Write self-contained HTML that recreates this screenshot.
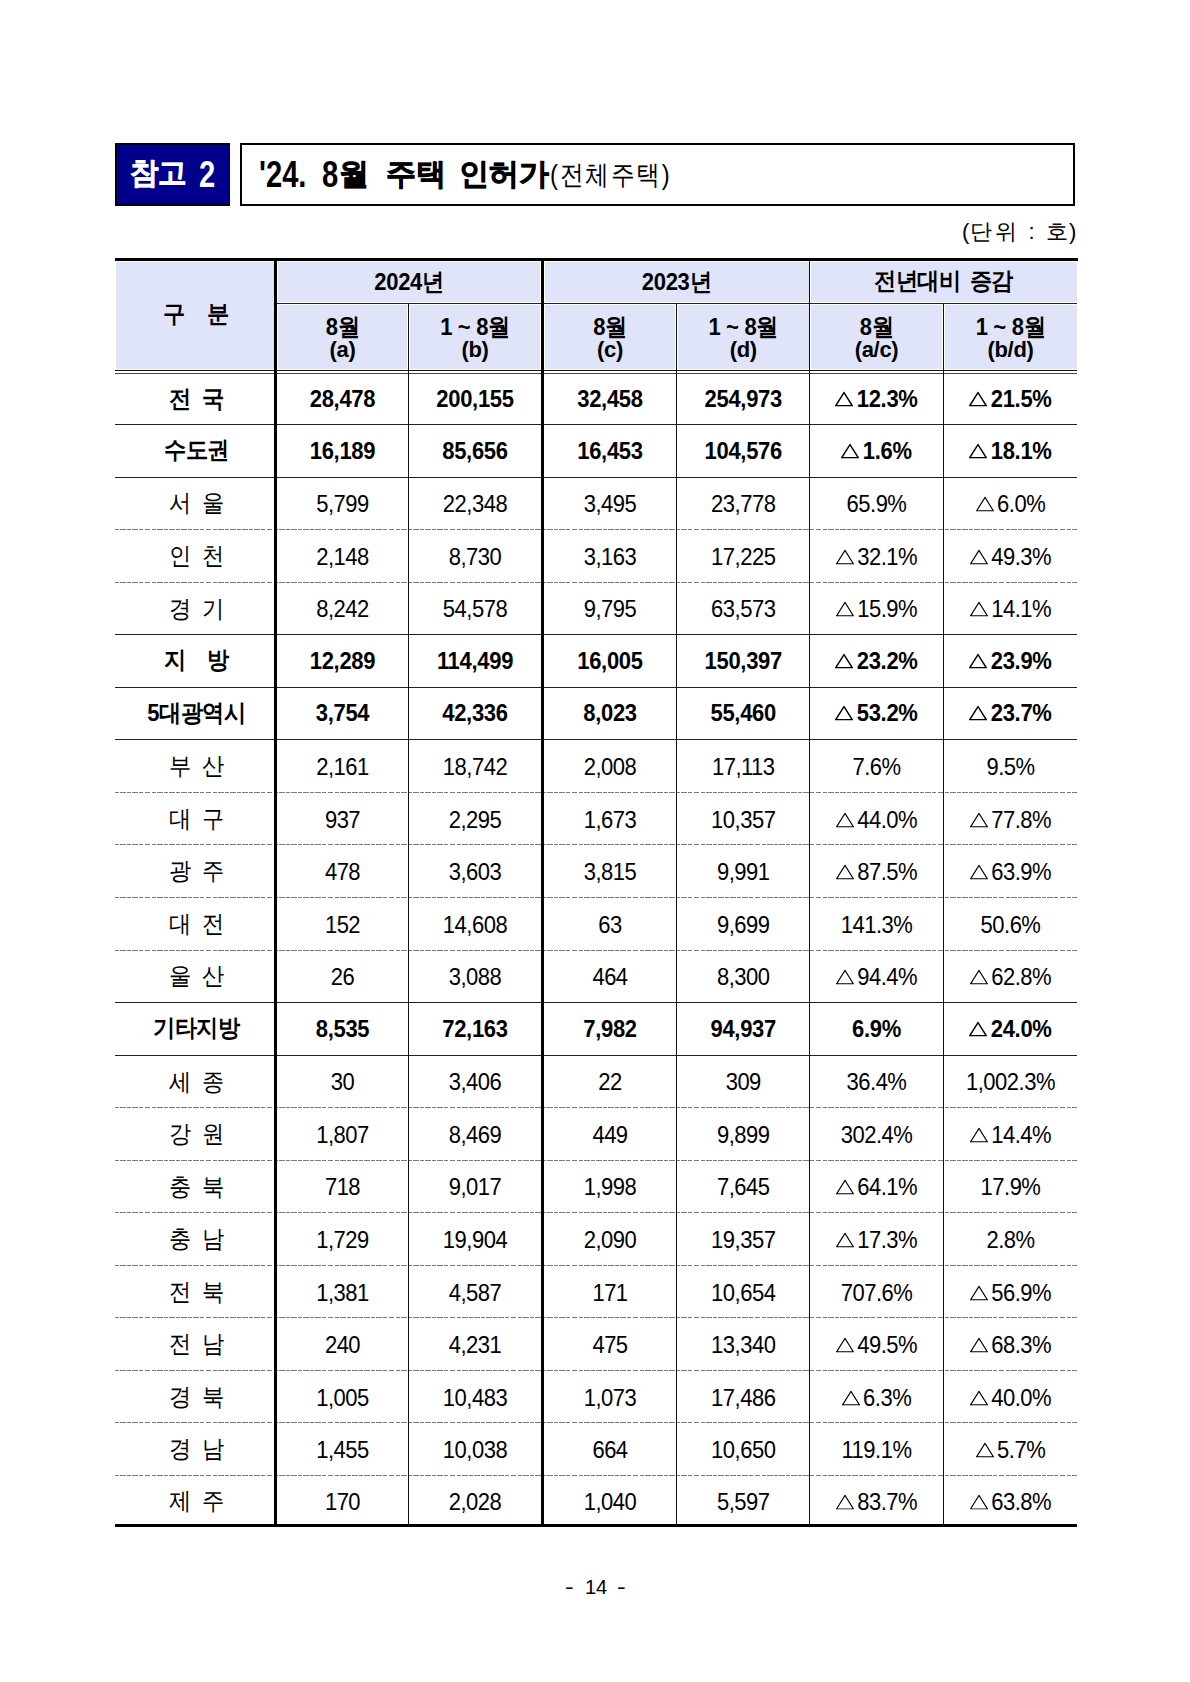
<!DOCTYPE html>
<html lang="ko"><head><meta charset="utf-8"><style>
*{margin:0;padding:0;box-sizing:border-box}
html,body{width:1190px;height:1682px;background:#fff;overflow:hidden}
body{position:relative;font-family:"Liberation Sans",sans-serif;color:#000}
.a{position:absolute}
.c{position:absolute;display:flex;align-items:center;justify-content:center;white-space:pre;font-size:22px;line-height:1;letter-spacing:-0.3px;transform:scaleY(1.08)}
.b{font-weight:bold}
.tri{display:inline-block;vertical-align:baseline;margin-right:3.4px;margin-left:0}
.t{position:absolute;white-space:pre;line-height:1;transform-origin:0 0}
.h{background:#222}
.d{height:1px;background:repeating-linear-gradient(to right,#7a7a7a 0 4px,transparent 4px 5.2px,#7a7a7a 5.2px 11px,transparent 11px 12.2px)}
.k{background:#000}
</style></head><body>

<div class="a" style="left:115px;top:143px;width:115px;height:62.5px;background:#00008a;border:2px solid #000;border-right-width:1px"></div>
<div class="a t" style="left:130px;top:158px;font-size:30px;transform:scaleX(0.95);color:#fff;font-weight:bold;letter-spacing:-1px;-webkit-text-stroke:0.6px #fff">참고</div>
<div class="a t" style="left:199px;top:157px;font-size:36px;transform:scaleX(0.81);color:#fff;font-weight:bold">2</div>
<div class="a" style="left:240px;top:143px;width:835px;height:62.5px;border:2.4px solid #000"></div>
<div class="a t" style="left:259px;top:157px;font-size:36px;transform:scaleX(0.81);font-weight:bold">'24.</div>
<div class="a t" style="left:322px;top:157px;font-size:36px;transform:scaleX(0.81);font-weight:bold">8</div>
<div class="a t" style="left:339px;top:159px;font-size:30px;transform:scaleX(1);font-weight:bold;-webkit-text-stroke:0.7px #000">월</div>
<div class="a t" style="left:386px;top:159px;font-size:30px;transform:scaleX(1);font-weight:bold;-webkit-text-stroke:0.7px #000">주택</div>
<div class="a t" style="left:459px;top:159px;font-size:30px;transform:scaleX(1);font-weight:bold;-webkit-text-stroke:0.7px #000">인허가</div>
<div class="a t" style="left:550px;top:161.5px;font-size:27px;transform:scaleX(0.88);letter-spacing:2px">(전체주택)</div>
<div class="a" style="left:962px;top:219px;font-size:22px;line-height:26px;white-space:pre">(</div>
<div class="a" style="left:970px;top:219px;font-size:22px;line-height:26px;white-space:pre;letter-spacing:2.5px">단위</div>
<div class="a" style="left:1028.5px;top:219px;font-size:22px;line-height:26px;white-space:pre">:</div>
<div class="a" style="left:1046px;top:219px;font-size:22px;line-height:26px;white-space:pre;letter-spacing:1px">호)</div>
<div class="a" style="left:116px;top:261.5px;width:157.5px;height:107.5px;background:#e0e4f8"></div>
<div class="a" style="left:278px;top:261.5px;width:262px;height:40.5px;background:#e0e4f8"></div>
<div class="a" style="left:545px;top:261.5px;width:263.5px;height:40.5px;background:#e0e4f8"></div>
<div class="a" style="left:811px;top:261.5px;width:266px;height:40.5px;background:#e0e4f8"></div>
<div class="a" style="left:278px;top:305px;width:129px;height:64px;background:#e0e4f8"></div>
<div class="a" style="left:410px;top:305px;width:130px;height:64px;background:#e0e4f8"></div>
<div class="a" style="left:545px;top:305px;width:130px;height:64px;background:#e0e4f8"></div>
<div class="a" style="left:678px;top:305px;width:130.5px;height:64px;background:#e0e4f8"></div>
<div class="a" style="left:811px;top:305px;width:131px;height:64px;background:#e0e4f8"></div>
<div class="a" style="left:945px;top:305px;width:132px;height:64px;background:#e0e4f8"></div>
<div class="c b" style="left:116.5px;top:259px;width:159px;height:109px;word-spacing:17px">구 분</div>
<div class="c b" style="left:277px;top:261px;width:264px;height:42px">2024년</div>
<div class="c b" style="left:544px;top:261px;width:265px;height:42px">2023년</div>
<div class="c b" style="left:810px;top:260px;width:267px;height:42px;word-spacing:3px">전년대비 증감</div>
<div class="c b" style="left:277px;top:304px;width:131px;height:46px">8월</div>
<div class="c b" style="left:277px;top:326.5px;width:131px;height:46px;transform:none">(a)</div>
<div class="c b" style="left:409px;top:304px;width:132px;height:46px">1 ~ 8월</div>
<div class="c b" style="left:409px;top:326.5px;width:132px;height:46px;transform:none">(b)</div>
<div class="c b" style="left:544px;top:304px;width:132px;height:46px">8월</div>
<div class="c b" style="left:544px;top:326.5px;width:132px;height:46px;transform:none">(c)</div>
<div class="c b" style="left:677px;top:304px;width:132.5px;height:46px">1 ~ 8월</div>
<div class="c b" style="left:677px;top:326.5px;width:132.5px;height:46px;transform:none">(d)</div>
<div class="c b" style="left:810px;top:304px;width:133px;height:46px">8월</div>
<div class="c b" style="left:810px;top:326.5px;width:133px;height:46px;transform:none">(a/c)</div>
<div class="c b" style="left:944px;top:304px;width:133px;height:46px">1 ~ 8월</div>
<div class="c b" style="left:944px;top:326.5px;width:133px;height:46px;transform:none">(b/d)</div>
<div class="c b" style="left:117px;top:373.5px;width:159px;height:50.4px;word-spacing:5.5px;">전 국</div>
<div class="c b" style="left:277px;top:374.3px;width:131px;height:50.4px;">28,478</div>
<div class="c b" style="left:409px;top:374.3px;width:132px;height:50.4px;">200,155</div>
<div class="c b" style="left:544px;top:374.3px;width:132px;height:50.4px;">32,458</div>
<div class="c b" style="left:677px;top:374.3px;width:132.5px;height:50.4px;">254,973</div>
<div class="c b" style="left:810px;top:374.3px;width:133px;height:50.4px;"><svg class="tri" width="18" height="14" viewBox="0 0 18 14"><path d="M0.70 13.30L9 1.12L17.30 13.30Z" fill="none" stroke="#000" stroke-width="1.4" stroke-linejoin="miter"/></svg>12.3%</div>
<div class="c b" style="left:944px;top:374.3px;width:133px;height:50.4px;"><svg class="tri" width="18" height="14" viewBox="0 0 18 14"><path d="M0.70 13.30L9 1.12L17.30 13.30Z" fill="none" stroke="#000" stroke-width="1.4" stroke-linejoin="miter"/></svg>21.5%</div>
<div class="c b" style="left:117px;top:423.9px;width:159px;height:52.6px;">수도권</div>
<div class="c b" style="left:277px;top:424.7px;width:131px;height:52.6px;">16,189</div>
<div class="c b" style="left:409px;top:424.7px;width:132px;height:52.6px;">85,656</div>
<div class="c b" style="left:544px;top:424.7px;width:132px;height:52.6px;">16,453</div>
<div class="c b" style="left:677px;top:424.7px;width:132.5px;height:52.6px;">104,576</div>
<div class="c b" style="left:810px;top:424.7px;width:133px;height:52.6px;"><svg class="tri" width="18" height="14" viewBox="0 0 18 14"><path d="M0.70 13.30L9 1.12L17.30 13.30Z" fill="none" stroke="#000" stroke-width="1.4" stroke-linejoin="miter"/></svg>1.6%</div>
<div class="c b" style="left:944px;top:424.7px;width:133px;height:52.6px;"><svg class="tri" width="18" height="14" viewBox="0 0 18 14"><path d="M0.70 13.30L9 1.12L17.30 13.30Z" fill="none" stroke="#000" stroke-width="1.4" stroke-linejoin="miter"/></svg>18.1%</div>
<div class="c" style="left:117px;top:477.4px;width:159px;height:52.6px;word-spacing:5.5px;">서 울</div>
<div class="c" style="left:277px;top:478.2px;width:131px;height:52.6px;letter-spacing:-0.5px;">5,799</div>
<div class="c" style="left:409px;top:478.2px;width:132px;height:52.6px;letter-spacing:-0.5px;">22,348</div>
<div class="c" style="left:544px;top:478.2px;width:132px;height:52.6px;letter-spacing:-0.5px;">3,495</div>
<div class="c" style="left:677px;top:478.2px;width:132.5px;height:52.6px;letter-spacing:-0.5px;">23,778</div>
<div class="c" style="left:810px;top:478.2px;width:133px;height:52.6px;letter-spacing:-0.5px;">65.9%</div>
<div class="c" style="left:944px;top:478.2px;width:133px;height:52.6px;letter-spacing:-0.5px;"><svg class="tri" width="18" height="14" viewBox="0 0 18 14"><path d="M0.55 13.45L9 0.88L17.45 13.45Z" fill="none" stroke="#000" stroke-width="1.1" stroke-linejoin="miter"/></svg>6.0%</div>
<div class="c" style="left:117px;top:530.0px;width:159px;height:52.5px;word-spacing:5.5px;">인 천</div>
<div class="c" style="left:277px;top:530.8px;width:131px;height:52.5px;letter-spacing:-0.5px;">2,148</div>
<div class="c" style="left:409px;top:530.8px;width:132px;height:52.5px;letter-spacing:-0.5px;">8,730</div>
<div class="c" style="left:544px;top:530.8px;width:132px;height:52.5px;letter-spacing:-0.5px;">3,163</div>
<div class="c" style="left:677px;top:530.8px;width:132.5px;height:52.5px;letter-spacing:-0.5px;">17,225</div>
<div class="c" style="left:810px;top:530.8px;width:133px;height:52.5px;letter-spacing:-0.5px;"><svg class="tri" width="18" height="14" viewBox="0 0 18 14"><path d="M0.55 13.45L9 0.88L17.45 13.45Z" fill="none" stroke="#000" stroke-width="1.1" stroke-linejoin="miter"/></svg>32.1%</div>
<div class="c" style="left:944px;top:530.8px;width:133px;height:52.5px;letter-spacing:-0.5px;"><svg class="tri" width="18" height="14" viewBox="0 0 18 14"><path d="M0.55 13.45L9 0.88L17.45 13.45Z" fill="none" stroke="#000" stroke-width="1.1" stroke-linejoin="miter"/></svg>49.3%</div>
<div class="c" style="left:117px;top:582.5px;width:159px;height:52.5px;word-spacing:5.5px;">경 기</div>
<div class="c" style="left:277px;top:583.3px;width:131px;height:52.5px;letter-spacing:-0.5px;">8,242</div>
<div class="c" style="left:409px;top:583.3px;width:132px;height:52.5px;letter-spacing:-0.5px;">54,578</div>
<div class="c" style="left:544px;top:583.3px;width:132px;height:52.5px;letter-spacing:-0.5px;">9,795</div>
<div class="c" style="left:677px;top:583.3px;width:132.5px;height:52.5px;letter-spacing:-0.5px;">63,573</div>
<div class="c" style="left:810px;top:583.3px;width:133px;height:52.5px;letter-spacing:-0.5px;"><svg class="tri" width="18" height="14" viewBox="0 0 18 14"><path d="M0.55 13.45L9 0.88L17.45 13.45Z" fill="none" stroke="#000" stroke-width="1.1" stroke-linejoin="miter"/></svg>15.9%</div>
<div class="c" style="left:944px;top:583.3px;width:133px;height:52.5px;letter-spacing:-0.5px;"><svg class="tri" width="18" height="14" viewBox="0 0 18 14"><path d="M0.55 13.45L9 0.88L17.45 13.45Z" fill="none" stroke="#000" stroke-width="1.1" stroke-linejoin="miter"/></svg>14.1%</div>
<div class="c b" style="left:117px;top:634.1px;width:159px;height:52.6px;word-spacing:16px;">지 방</div>
<div class="c b" style="left:277px;top:634.9px;width:131px;height:52.6px;">12,289</div>
<div class="c b" style="left:409px;top:634.9px;width:132px;height:52.6px;">114,499</div>
<div class="c b" style="left:544px;top:634.9px;width:132px;height:52.6px;">16,005</div>
<div class="c b" style="left:677px;top:634.9px;width:132.5px;height:52.6px;">150,397</div>
<div class="c b" style="left:810px;top:634.9px;width:133px;height:52.6px;"><svg class="tri" width="18" height="14" viewBox="0 0 18 14"><path d="M0.70 13.30L9 1.12L17.30 13.30Z" fill="none" stroke="#000" stroke-width="1.4" stroke-linejoin="miter"/></svg>23.2%</div>
<div class="c b" style="left:944px;top:634.9px;width:133px;height:52.6px;"><svg class="tri" width="18" height="14" viewBox="0 0 18 14"><path d="M0.70 13.30L9 1.12L17.30 13.30Z" fill="none" stroke="#000" stroke-width="1.4" stroke-linejoin="miter"/></svg>23.9%</div>
<div class="c b" style="left:117px;top:686.6px;width:159px;height:52.5px;">5대광역시</div>
<div class="c b" style="left:277px;top:687.4px;width:131px;height:52.5px;">3,754</div>
<div class="c b" style="left:409px;top:687.4px;width:132px;height:52.5px;">42,336</div>
<div class="c b" style="left:544px;top:687.4px;width:132px;height:52.5px;">8,023</div>
<div class="c b" style="left:677px;top:687.4px;width:132.5px;height:52.5px;">55,460</div>
<div class="c b" style="left:810px;top:687.4px;width:133px;height:52.5px;"><svg class="tri" width="18" height="14" viewBox="0 0 18 14"><path d="M0.70 13.30L9 1.12L17.30 13.30Z" fill="none" stroke="#000" stroke-width="1.4" stroke-linejoin="miter"/></svg>53.2%</div>
<div class="c b" style="left:944px;top:687.4px;width:133px;height:52.5px;"><svg class="tri" width="18" height="14" viewBox="0 0 18 14"><path d="M0.70 13.30L9 1.12L17.30 13.30Z" fill="none" stroke="#000" stroke-width="1.4" stroke-linejoin="miter"/></svg>23.7%</div>
<div class="c" style="left:117px;top:740.2px;width:159px;height:52.6px;word-spacing:5.5px;">부 산</div>
<div class="c" style="left:277px;top:741.0px;width:131px;height:52.6px;letter-spacing:-0.5px;">2,161</div>
<div class="c" style="left:409px;top:741.0px;width:132px;height:52.6px;letter-spacing:-0.5px;">18,742</div>
<div class="c" style="left:544px;top:741.0px;width:132px;height:52.6px;letter-spacing:-0.5px;">2,008</div>
<div class="c" style="left:677px;top:741.0px;width:132.5px;height:52.6px;letter-spacing:-0.5px;">17,113</div>
<div class="c" style="left:810px;top:741.0px;width:133px;height:52.6px;letter-spacing:-0.5px;">7.6%</div>
<div class="c" style="left:944px;top:741.0px;width:133px;height:52.6px;letter-spacing:-0.5px;">9.5%</div>
<div class="c" style="left:117px;top:792.8px;width:159px;height:52.5px;word-spacing:5.5px;">대 구</div>
<div class="c" style="left:277px;top:793.5px;width:131px;height:52.5px;letter-spacing:-0.5px;">937</div>
<div class="c" style="left:409px;top:793.5px;width:132px;height:52.5px;letter-spacing:-0.5px;">2,295</div>
<div class="c" style="left:544px;top:793.5px;width:132px;height:52.5px;letter-spacing:-0.5px;">1,673</div>
<div class="c" style="left:677px;top:793.5px;width:132.5px;height:52.5px;letter-spacing:-0.5px;">10,357</div>
<div class="c" style="left:810px;top:793.5px;width:133px;height:52.5px;letter-spacing:-0.5px;"><svg class="tri" width="18" height="14" viewBox="0 0 18 14"><path d="M0.55 13.45L9 0.88L17.45 13.45Z" fill="none" stroke="#000" stroke-width="1.1" stroke-linejoin="miter"/></svg>44.0%</div>
<div class="c" style="left:944px;top:793.5px;width:133px;height:52.5px;letter-spacing:-0.5px;"><svg class="tri" width="18" height="14" viewBox="0 0 18 14"><path d="M0.55 13.45L9 0.88L17.45 13.45Z" fill="none" stroke="#000" stroke-width="1.1" stroke-linejoin="miter"/></svg>77.8%</div>
<div class="c" style="left:117px;top:845.3px;width:159px;height:52.5px;word-spacing:5.5px;">광 주</div>
<div class="c" style="left:277px;top:846.1px;width:131px;height:52.5px;letter-spacing:-0.5px;">478</div>
<div class="c" style="left:409px;top:846.1px;width:132px;height:52.5px;letter-spacing:-0.5px;">3,603</div>
<div class="c" style="left:544px;top:846.1px;width:132px;height:52.5px;letter-spacing:-0.5px;">3,815</div>
<div class="c" style="left:677px;top:846.1px;width:132.5px;height:52.5px;letter-spacing:-0.5px;">9,991</div>
<div class="c" style="left:810px;top:846.1px;width:133px;height:52.5px;letter-spacing:-0.5px;"><svg class="tri" width="18" height="14" viewBox="0 0 18 14"><path d="M0.55 13.45L9 0.88L17.45 13.45Z" fill="none" stroke="#000" stroke-width="1.1" stroke-linejoin="miter"/></svg>87.5%</div>
<div class="c" style="left:944px;top:846.1px;width:133px;height:52.5px;letter-spacing:-0.5px;"><svg class="tri" width="18" height="14" viewBox="0 0 18 14"><path d="M0.55 13.45L9 0.88L17.45 13.45Z" fill="none" stroke="#000" stroke-width="1.1" stroke-linejoin="miter"/></svg>63.9%</div>
<div class="c" style="left:117px;top:897.8px;width:159px;height:52.6px;word-spacing:5.5px;">대 전</div>
<div class="c" style="left:277px;top:898.6px;width:131px;height:52.6px;letter-spacing:-0.5px;">152</div>
<div class="c" style="left:409px;top:898.6px;width:132px;height:52.6px;letter-spacing:-0.5px;">14,608</div>
<div class="c" style="left:544px;top:898.6px;width:132px;height:52.6px;letter-spacing:-0.5px;">63</div>
<div class="c" style="left:677px;top:898.6px;width:132.5px;height:52.6px;letter-spacing:-0.5px;">9,699</div>
<div class="c" style="left:810px;top:898.6px;width:133px;height:52.6px;letter-spacing:-0.5px;">141.3%</div>
<div class="c" style="left:944px;top:898.6px;width:133px;height:52.6px;letter-spacing:-0.5px;">50.6%</div>
<div class="c" style="left:117px;top:950.4px;width:159px;height:52.5px;word-spacing:5.5px;">울 산</div>
<div class="c" style="left:277px;top:951.2px;width:131px;height:52.5px;letter-spacing:-0.5px;">26</div>
<div class="c" style="left:409px;top:951.2px;width:132px;height:52.5px;letter-spacing:-0.5px;">3,088</div>
<div class="c" style="left:544px;top:951.2px;width:132px;height:52.5px;letter-spacing:-0.5px;">464</div>
<div class="c" style="left:677px;top:951.2px;width:132.5px;height:52.5px;letter-spacing:-0.5px;">8,300</div>
<div class="c" style="left:810px;top:951.2px;width:133px;height:52.5px;letter-spacing:-0.5px;"><svg class="tri" width="18" height="14" viewBox="0 0 18 14"><path d="M0.55 13.45L9 0.88L17.45 13.45Z" fill="none" stroke="#000" stroke-width="1.1" stroke-linejoin="miter"/></svg>94.4%</div>
<div class="c" style="left:944px;top:951.2px;width:133px;height:52.5px;letter-spacing:-0.5px;"><svg class="tri" width="18" height="14" viewBox="0 0 18 14"><path d="M0.55 13.45L9 0.88L17.45 13.45Z" fill="none" stroke="#000" stroke-width="1.1" stroke-linejoin="miter"/></svg>62.8%</div>
<div class="c b" style="left:117px;top:1001.9px;width:159px;height:52.6px;">기타지방</div>
<div class="c b" style="left:277px;top:1002.7px;width:131px;height:52.6px;">8,535</div>
<div class="c b" style="left:409px;top:1002.7px;width:132px;height:52.6px;">72,163</div>
<div class="c b" style="left:544px;top:1002.7px;width:132px;height:52.6px;">7,982</div>
<div class="c b" style="left:677px;top:1002.7px;width:132.5px;height:52.6px;">94,937</div>
<div class="c b" style="left:810px;top:1002.7px;width:133px;height:52.6px;">6.9%</div>
<div class="c b" style="left:944px;top:1002.7px;width:133px;height:52.6px;"><svg class="tri" width="18" height="14" viewBox="0 0 18 14"><path d="M0.70 13.30L9 1.12L17.30 13.30Z" fill="none" stroke="#000" stroke-width="1.4" stroke-linejoin="miter"/></svg>24.0%</div>
<div class="c" style="left:117px;top:1055.5px;width:159px;height:52.5px;word-spacing:5.5px;">세 종</div>
<div class="c" style="left:277px;top:1056.3px;width:131px;height:52.5px;letter-spacing:-0.5px;">30</div>
<div class="c" style="left:409px;top:1056.3px;width:132px;height:52.5px;letter-spacing:-0.5px;">3,406</div>
<div class="c" style="left:544px;top:1056.3px;width:132px;height:52.5px;letter-spacing:-0.5px;">22</div>
<div class="c" style="left:677px;top:1056.3px;width:132.5px;height:52.5px;letter-spacing:-0.5px;">309</div>
<div class="c" style="left:810px;top:1056.3px;width:133px;height:52.5px;letter-spacing:-0.5px;">36.4%</div>
<div class="c" style="left:944px;top:1056.3px;width:133px;height:52.5px;letter-spacing:-0.5px;">1,002.3%</div>
<div class="c" style="left:117px;top:1108.0px;width:159px;height:52.5px;word-spacing:5.5px;">강 원</div>
<div class="c" style="left:277px;top:1108.8px;width:131px;height:52.5px;letter-spacing:-0.5px;">1,807</div>
<div class="c" style="left:409px;top:1108.8px;width:132px;height:52.5px;letter-spacing:-0.5px;">8,469</div>
<div class="c" style="left:544px;top:1108.8px;width:132px;height:52.5px;letter-spacing:-0.5px;">449</div>
<div class="c" style="left:677px;top:1108.8px;width:132.5px;height:52.5px;letter-spacing:-0.5px;">9,899</div>
<div class="c" style="left:810px;top:1108.8px;width:133px;height:52.5px;letter-spacing:-0.5px;">302.4%</div>
<div class="c" style="left:944px;top:1108.8px;width:133px;height:52.5px;letter-spacing:-0.5px;"><svg class="tri" width="18" height="14" viewBox="0 0 18 14"><path d="M0.55 13.45L9 0.88L17.45 13.45Z" fill="none" stroke="#000" stroke-width="1.1" stroke-linejoin="miter"/></svg>14.4%</div>
<div class="c" style="left:117px;top:1160.6px;width:159px;height:52.6px;word-spacing:5.5px;">충 북</div>
<div class="c" style="left:277px;top:1161.4px;width:131px;height:52.6px;letter-spacing:-0.5px;">718</div>
<div class="c" style="left:409px;top:1161.4px;width:132px;height:52.6px;letter-spacing:-0.5px;">9,017</div>
<div class="c" style="left:544px;top:1161.4px;width:132px;height:52.6px;letter-spacing:-0.5px;">1,998</div>
<div class="c" style="left:677px;top:1161.4px;width:132.5px;height:52.6px;letter-spacing:-0.5px;">7,645</div>
<div class="c" style="left:810px;top:1161.4px;width:133px;height:52.6px;letter-spacing:-0.5px;"><svg class="tri" width="18" height="14" viewBox="0 0 18 14"><path d="M0.55 13.45L9 0.88L17.45 13.45Z" fill="none" stroke="#000" stroke-width="1.1" stroke-linejoin="miter"/></svg>64.1%</div>
<div class="c" style="left:944px;top:1161.4px;width:133px;height:52.6px;letter-spacing:-0.5px;">17.9%</div>
<div class="c" style="left:117px;top:1213.2px;width:159px;height:52.5px;word-spacing:5.5px;">충 남</div>
<div class="c" style="left:277px;top:1214.0px;width:131px;height:52.5px;letter-spacing:-0.5px;">1,729</div>
<div class="c" style="left:409px;top:1214.0px;width:132px;height:52.5px;letter-spacing:-0.5px;">19,904</div>
<div class="c" style="left:544px;top:1214.0px;width:132px;height:52.5px;letter-spacing:-0.5px;">2,090</div>
<div class="c" style="left:677px;top:1214.0px;width:132.5px;height:52.5px;letter-spacing:-0.5px;">19,357</div>
<div class="c" style="left:810px;top:1214.0px;width:133px;height:52.5px;letter-spacing:-0.5px;"><svg class="tri" width="18" height="14" viewBox="0 0 18 14"><path d="M0.55 13.45L9 0.88L17.45 13.45Z" fill="none" stroke="#000" stroke-width="1.1" stroke-linejoin="miter"/></svg>17.3%</div>
<div class="c" style="left:944px;top:1214.0px;width:133px;height:52.5px;letter-spacing:-0.5px;">2.8%</div>
<div class="c" style="left:117px;top:1265.7px;width:159px;height:52.6px;word-spacing:5.5px;">전 북</div>
<div class="c" style="left:277px;top:1266.5px;width:131px;height:52.6px;letter-spacing:-0.5px;">1,381</div>
<div class="c" style="left:409px;top:1266.5px;width:132px;height:52.6px;letter-spacing:-0.5px;">4,587</div>
<div class="c" style="left:544px;top:1266.5px;width:132px;height:52.6px;letter-spacing:-0.5px;">171</div>
<div class="c" style="left:677px;top:1266.5px;width:132.5px;height:52.6px;letter-spacing:-0.5px;">10,654</div>
<div class="c" style="left:810px;top:1266.5px;width:133px;height:52.6px;letter-spacing:-0.5px;">707.6%</div>
<div class="c" style="left:944px;top:1266.5px;width:133px;height:52.6px;letter-spacing:-0.5px;"><svg class="tri" width="18" height="14" viewBox="0 0 18 14"><path d="M0.55 13.45L9 0.88L17.45 13.45Z" fill="none" stroke="#000" stroke-width="1.1" stroke-linejoin="miter"/></svg>56.9%</div>
<div class="c" style="left:117px;top:1318.2px;width:159px;height:52.5px;word-spacing:5.5px;">전 남</div>
<div class="c" style="left:277px;top:1319.0px;width:131px;height:52.5px;letter-spacing:-0.5px;">240</div>
<div class="c" style="left:409px;top:1319.0px;width:132px;height:52.5px;letter-spacing:-0.5px;">4,231</div>
<div class="c" style="left:544px;top:1319.0px;width:132px;height:52.5px;letter-spacing:-0.5px;">475</div>
<div class="c" style="left:677px;top:1319.0px;width:132.5px;height:52.5px;letter-spacing:-0.5px;">13,340</div>
<div class="c" style="left:810px;top:1319.0px;width:133px;height:52.5px;letter-spacing:-0.5px;"><svg class="tri" width="18" height="14" viewBox="0 0 18 14"><path d="M0.55 13.45L9 0.88L17.45 13.45Z" fill="none" stroke="#000" stroke-width="1.1" stroke-linejoin="miter"/></svg>49.5%</div>
<div class="c" style="left:944px;top:1319.0px;width:133px;height:52.5px;letter-spacing:-0.5px;"><svg class="tri" width="18" height="14" viewBox="0 0 18 14"><path d="M0.55 13.45L9 0.88L17.45 13.45Z" fill="none" stroke="#000" stroke-width="1.1" stroke-linejoin="miter"/></svg>68.3%</div>
<div class="c" style="left:117px;top:1370.8px;width:159px;height:52.5px;word-spacing:5.5px;">경 북</div>
<div class="c" style="left:277px;top:1371.6px;width:131px;height:52.5px;letter-spacing:-0.5px;">1,005</div>
<div class="c" style="left:409px;top:1371.6px;width:132px;height:52.5px;letter-spacing:-0.5px;">10,483</div>
<div class="c" style="left:544px;top:1371.6px;width:132px;height:52.5px;letter-spacing:-0.5px;">1,073</div>
<div class="c" style="left:677px;top:1371.6px;width:132.5px;height:52.5px;letter-spacing:-0.5px;">17,486</div>
<div class="c" style="left:810px;top:1371.6px;width:133px;height:52.5px;letter-spacing:-0.5px;"><svg class="tri" width="18" height="14" viewBox="0 0 18 14"><path d="M0.55 13.45L9 0.88L17.45 13.45Z" fill="none" stroke="#000" stroke-width="1.1" stroke-linejoin="miter"/></svg>6.3%</div>
<div class="c" style="left:944px;top:1371.6px;width:133px;height:52.5px;letter-spacing:-0.5px;"><svg class="tri" width="18" height="14" viewBox="0 0 18 14"><path d="M0.55 13.45L9 0.88L17.45 13.45Z" fill="none" stroke="#000" stroke-width="1.1" stroke-linejoin="miter"/></svg>40.0%</div>
<div class="c" style="left:117px;top:1423.3px;width:159px;height:52.6px;word-spacing:5.5px;">경 남</div>
<div class="c" style="left:277px;top:1424.1px;width:131px;height:52.6px;letter-spacing:-0.5px;">1,455</div>
<div class="c" style="left:409px;top:1424.1px;width:132px;height:52.6px;letter-spacing:-0.5px;">10,038</div>
<div class="c" style="left:544px;top:1424.1px;width:132px;height:52.6px;letter-spacing:-0.5px;">664</div>
<div class="c" style="left:677px;top:1424.1px;width:132.5px;height:52.6px;letter-spacing:-0.5px;">10,650</div>
<div class="c" style="left:810px;top:1424.1px;width:133px;height:52.6px;letter-spacing:-0.5px;">119.1%</div>
<div class="c" style="left:944px;top:1424.1px;width:133px;height:52.6px;letter-spacing:-0.5px;"><svg class="tri" width="18" height="14" viewBox="0 0 18 14"><path d="M0.55 13.45L9 0.88L17.45 13.45Z" fill="none" stroke="#000" stroke-width="1.1" stroke-linejoin="miter"/></svg>5.7%</div>
<div class="c" style="left:117px;top:1475.9px;width:159px;height:49.1px;word-spacing:5.5px;">제 주</div>
<div class="c" style="left:277px;top:1476.7px;width:131px;height:49.1px;letter-spacing:-0.5px;">170</div>
<div class="c" style="left:409px;top:1476.7px;width:132px;height:49.1px;letter-spacing:-0.5px;">2,028</div>
<div class="c" style="left:544px;top:1476.7px;width:132px;height:49.1px;letter-spacing:-0.5px;">1,040</div>
<div class="c" style="left:677px;top:1476.7px;width:132.5px;height:49.1px;letter-spacing:-0.5px;">5,597</div>
<div class="c" style="left:810px;top:1476.7px;width:133px;height:49.1px;letter-spacing:-0.5px;"><svg class="tri" width="18" height="14" viewBox="0 0 18 14"><path d="M0.55 13.45L9 0.88L17.45 13.45Z" fill="none" stroke="#000" stroke-width="1.1" stroke-linejoin="miter"/></svg>83.7%</div>
<div class="c" style="left:944px;top:1476.7px;width:133px;height:49.1px;letter-spacing:-0.5px;"><svg class="tri" width="18" height="14" viewBox="0 0 18 14"><path d="M0.55 13.45L9 0.88L17.45 13.45Z" fill="none" stroke="#000" stroke-width="1.1" stroke-linejoin="miter"/></svg>63.8%</div>
<div class="a k" style="left:115px;top:258px;width:963px;height:3px"></div>
<div class="a h" style="left:277px;top:303px;width:800px;height:1px"></div>
<div class="a h" style="left:115px;top:370px;width:962px;height:1px;background:#111"></div>
<div class="a h" style="left:115px;top:373px;width:962px;height:1px;background:#444"></div>
<div class="a h" style="left:115px;top:424px;width:962px;height:1px"></div>
<div class="a h" style="left:115px;top:477px;width:962px;height:1px"></div>
<div class="a d" style="left:115px;top:529px;width:962px"></div>
<div class="a d" style="left:115px;top:582px;width:962px"></div>
<div class="a h" style="left:115px;top:634px;width:962px;height:1px"></div>
<div class="a h" style="left:115px;top:687px;width:962px;height:1px"></div>
<div class="a h" style="left:115px;top:739px;width:962px;height:1px"></div>
<div class="a d" style="left:115px;top:792px;width:962px"></div>
<div class="a d" style="left:115px;top:844px;width:962px"></div>
<div class="a d" style="left:115px;top:897px;width:962px"></div>
<div class="a d" style="left:115px;top:950px;width:962px"></div>
<div class="a h" style="left:115px;top:1002px;width:962px;height:1px"></div>
<div class="a h" style="left:115px;top:1055px;width:962px;height:1px"></div>
<div class="a d" style="left:115px;top:1107px;width:962px"></div>
<div class="a d" style="left:115px;top:1160px;width:962px"></div>
<div class="a d" style="left:115px;top:1212px;width:962px"></div>
<div class="a d" style="left:115px;top:1265px;width:962px"></div>
<div class="a d" style="left:115px;top:1317px;width:962px"></div>
<div class="a d" style="left:115px;top:1370px;width:962px"></div>
<div class="a d" style="left:115px;top:1422px;width:962px"></div>
<div class="a d" style="left:115px;top:1475px;width:962px"></div>
<div class="a k" style="left:115px;top:1524px;width:962px;height:2.6px"></div>
<div class="a k" style="left:274px;top:258px;width:3px;height:1268.6px"></div>
<div class="a k" style="left:541px;top:258px;width:3px;height:1268.6px"></div>
<div class="a h" style="left:408px;top:303px;width:1px;height:1222px;background:#111"></div>
<div class="a h" style="left:676px;top:303px;width:1px;height:1222px;background:#111"></div>
<div class="a h" style="left:943px;top:303px;width:1px;height:1222px;background:#111"></div>
<div class="a h" style="left:809px;top:261px;width:1px;height:1264px;background:#111"></div>
<div class="a" style="left:565px;top:1575px;font-size:20px;line-height:24px;white-space:pre;transform:scaleX(1.3);transform-origin:0 0">-</div>
<div class="a" style="left:585px;top:1575px;font-size:20px;line-height:24px;white-space:pre">14</div>
<div class="a" style="left:617px;top:1575px;font-size:20px;line-height:24px;white-space:pre;transform:scaleX(1.3);transform-origin:0 0">-</div>
</body></html>
